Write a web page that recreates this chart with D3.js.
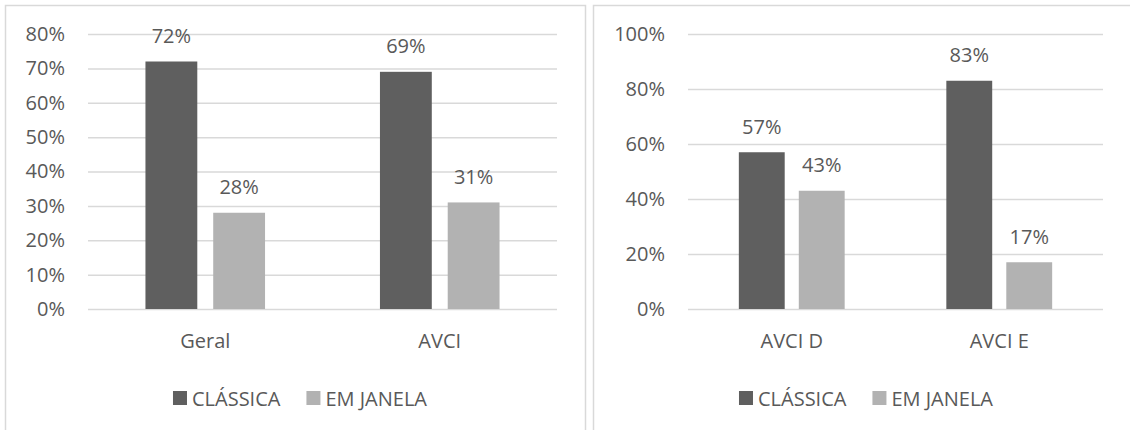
<!DOCTYPE html>
<html>
<head>
<meta charset="utf-8">
<script src="https://cdn.jsdelivr.net/npm/d3@7"></script>
<style>
  body { margin: 0; background: #fff; }
  svg text { font-family: "Open Sans", "Noto Sans", sans-serif; fill: #595959; }
</style>
</head>
<body>
<svg id="chart" width="1130" height="430"></svg>
<script>
var seriesNames = ["CLÁSSICA", "EM JANELA"];
var seriesColors = ["#5f5f5f", "#b2b2b2"];

var categoriesLeft = ["Geral", "AVCI"];
var classicaLeft = [72, 69];
var janelaLeft = [28, 31];
var ticksLeft = [0, 10, 20, 30, 40, 50, 60, 70, 80];

var categoriesRight = ["AVCI D", "AVCI E"];
var classicaRight = [57, 83];
var janelaRight = [43, 17];
var ticksRight = [0, 20, 40, 60, 80, 100];

var svg = d3.select("#chart");
var fs = "20px";

function drawPanel(opt) {
    // frame of the panel
    svg.append("rect")
        .attr("x", opt.frame[0] + 0.5).attr("y", 5.5)
        .attr("width", opt.frame[1] - opt.frame[0]).attr("height", 440)
        .attr("fill", "none").attr("stroke", "#d9d9d9").attr("stroke-width", 1.5);

    var top = 34, bottom = 309;
    var y = d3.scaleLinear()
        .domain([0, d3.max(opt.ticks)])
        .range([bottom, top]);

    var x0 = d3.scaleBand()
        .domain(opt.categories)
        .range([opt.plot[0], opt.plot[1]]);
    var bw = x0.bandwidth();
    var x1 = d3.scaleBand()
        .domain(seriesNames)
        .range([bw * 0.245, bw * 0.755])
        .paddingInner(0.235);

    // gridlines + tick labels
    var axis = svg.append("g")
        .attr("transform", "translate(" + opt.plot[0] + ",0)")
        .call(d3.axisLeft(y)
            .tickValues(opt.ticks)
            .tickSize(-(opt.plot[1] - opt.plot[0]))
            .tickPadding(23)
            .tickFormat(function(d) { return d + "%"; }));
    axis.select(".domain").remove();
    axis.selectAll("line").attr("stroke", "#d9d9d9").attr("stroke-width", 1.5);
    axis.selectAll("text")
        .attr("font-size", fs)
        .attr("fill", "#595959");

    var rows = opt.categories.map(function(c, i) {
        return { cat: c, vals: [opt.s1[i], opt.s2[i]] };
    });

    var groups = svg.selectAll(null)
        .data(rows)
        .enter()
        .append("g")
        .attr("transform", function(d) { return "translate(" + x0(d.cat) + ",0)"; });

    groups.selectAll("rect")
        .data(function(d) { return d.vals.map(function(v, j) { return { s: seriesNames[j], v: v, j: j }; }); })
        .enter()
        .append("rect")
        .attr("x", function(d) { return x1(d.s); })
        .attr("y", function(d) { return y(d.v); })
        .attr("width", x1.bandwidth())
        .attr("height", function(d) { return bottom - y(d.v); })
        .attr("fill", function(d) { return seriesColors[d.j]; });

    groups.selectAll("text.val")
        .data(function(d) { return d.vals.map(function(v, j) { return { s: seriesNames[j], v: v }; }); })
        .enter()
        .append("text")
        .attr("class", "val")
        .attr("x", function(d) { return x1(d.s) + x1.bandwidth() / 2; })
        .attr("y", function(d) { return y(d.v) - 18.5; })
        .attr("text-anchor", "middle")
        .attr("font-size", fs)
        .text(function(d) { return d.v + "%"; });

    // category labels
    svg.selectAll(null)
        .data(opt.categories)
        .enter()
        .append("text")
        .attr("x", function(d) { return x0(d) + bw / 2; })
        .attr("y", 348)
        .attr("text-anchor", "middle")
        .attr("font-size", fs)
        .text(function(d) { return d; });

    // legend
    var lg = svg.append("g");
    var xpos = 0;
    seriesNames.forEach(function(name, j) {
        lg.append("rect")
            .attr("x", xpos).attr("y", 391)
            .attr("width", 14).attr("height", 14)
            .attr("fill", seriesColors[j]);
        var t = lg.append("text")
            .attr("x", xpos + 19).attr("y", 405.5)
            .attr("font-size", fs)
            .text(name);
        xpos += 19 + t.node().getComputedTextLength() + 26;
    });
    var lw = xpos - 26;
    lg.attr("transform", "translate(" + (opt.legendCenter - lw / 2) + ",0)");
}

drawPanel({
    frame: [5, 585], plot: [88, 557], legendCenter: 300,
    categories: categoriesLeft, s1: classicaLeft, s2: janelaLeft, ticks: ticksLeft
});
drawPanel({
    frame: [593, 1140], plot: [688, 1103], legendCenter: 866,
    categories: categoriesRight, s1: classicaRight, s2: janelaRight, ticks: ticksRight
});
</script>
</body>
</html>
